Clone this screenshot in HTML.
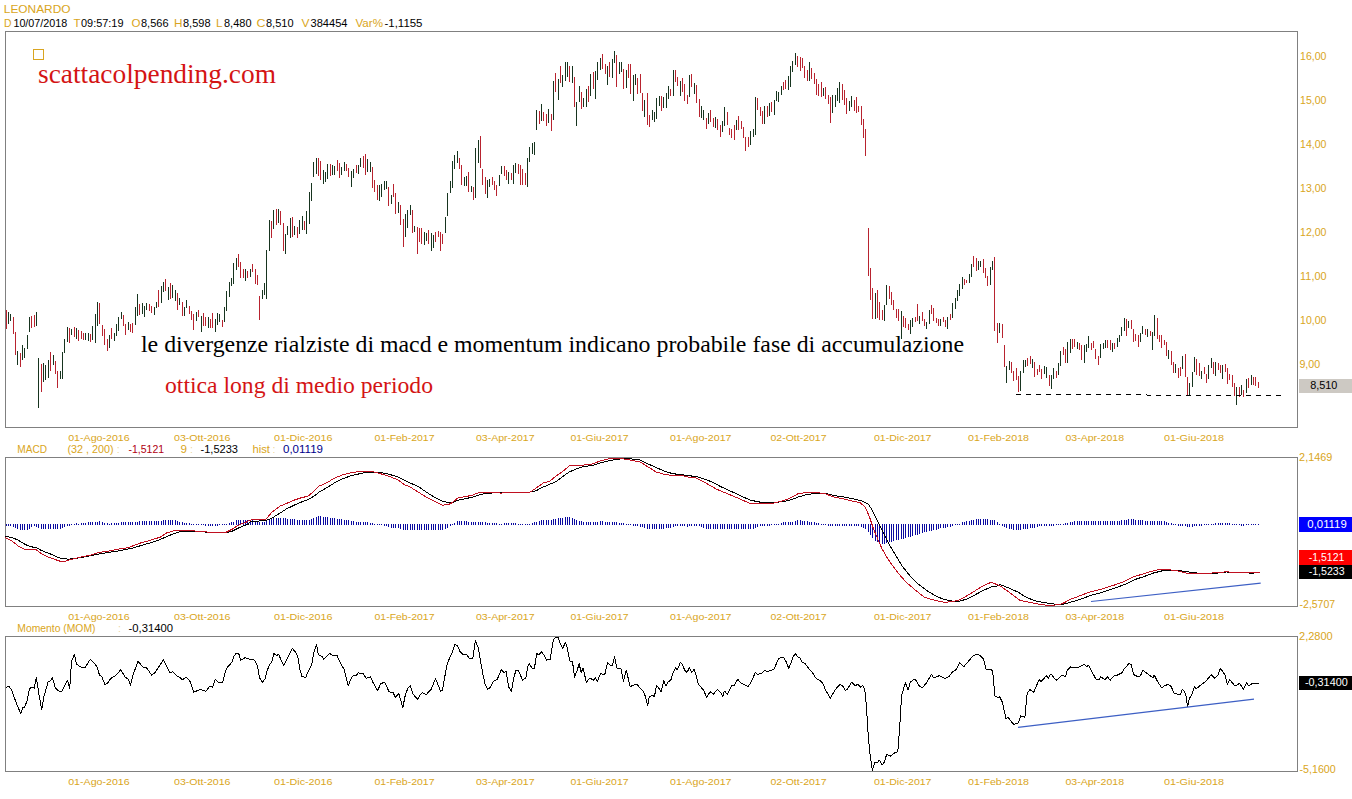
<!DOCTYPE html>
<html><head><meta charset="utf-8"><title>LEONARDO</title>
<style>html,body{margin:0;padding:0;background:#fff;width:1352px;height:799px;overflow:hidden;font-family:"Liberation Sans",sans-serif}</style>
</head><body>
<svg width="1352" height="799" viewBox="0 0 1352 799" style="position:absolute;left:0;top:0;font-family:'Liberation Sans',sans-serif">
<rect width="1352" height="799" fill="#fff"/>
<rect x="5.5" y="31.5" width="1292" height="396" fill="none" stroke="#808080" stroke-width="1" shape-rendering="crispEdges"/>
<rect x="5.5" y="457.5" width="1292" height="149" fill="none" stroke="#808080" stroke-width="1" shape-rendering="crispEdges"/>
<rect x="5.5" y="636.5" width="1292" height="135" fill="none" stroke="#808080" stroke-width="1" shape-rendering="crispEdges"/>
<path d="M8.5 312V324M10.5 314V321M17.5 351V365M22.5 345V360M24.5 348V358M27.5 335V349M29.5 317V332M36.5 312V326M38.5 358V408M43.5 363V382M45.5 365V380M48.5 360V378M53.5 355V365M60.5 371V379M62.5 352V379M64.5 339V353M67.5 327V342M71.5 329V335M76.5 328V339M85.5 333V340M88.5 333V341M92.5 326V340M95.5 314V343M97.5 302V326M109.5 335V348M114.5 333V341M116.5 324V336M118.5 317V331M121.5 312V319M128.5 322V330M135.5 307V325M137.5 294V316M142.5 303V314M144.5 306V317M146.5 303V310M154.5 307V315M156.5 302V308M161.5 286V303M163.5 282V292M168.5 287V300M172.5 285V298M175.5 290V301M179.5 298V305M184.5 307V316M186.5 300V308M196.5 312V321M201.5 316V332M208.5 317V328M215.5 319V332M217.5 313V325M219.5 314V322M224.5 307V322M226.5 291V311M229.5 282V297M231.5 278V286M233.5 263V284M236.5 258V270M245.5 269V281M250.5 269V277M262.5 290V299M264.5 283V295M266.5 250V299M269.5 220V251M273.5 210V229M278.5 209V223M285.5 234V254M287.5 226V235M290.5 218V238M294.5 226V235M299.5 220V234M302.5 216V230M306.5 211V234M309.5 192V224M311.5 183V201M313.5 162V177M316.5 158V174M323.5 170V184M325.5 172V182M327.5 164V179M332.5 165V175M334.5 166V175M341.5 167V175M344.5 162V171M351.5 171V187M353.5 169V178M358.5 165V174M360.5 158V167M367.5 159V172M370.5 162V172M379.5 185V201M381.5 184V197M384.5 181V190M386.5 181V189M391.5 195V204M398.5 202V213M405.5 214V237M407.5 210V228M410.5 205V215M414.5 226V232M424.5 232V245M426.5 233V241M431.5 233V251M433.5 235V248M445.5 217V233M447.5 193V216M450.5 181V193M452.5 161V188M454.5 155V169M457.5 151V163M464.5 177V186M466.5 176V186M471.5 186V192M475.5 148V198M478.5 140V163M487.5 180V198M489.5 179V187M499.5 175V186M501.5 166V174M508.5 172V184M513.5 165V184M515.5 163V173M527.5 158V187M529.5 147V162M532.5 143V154M534.5 142V155M536.5 110V130M541.5 104V121M548.5 109V123M553.5 81V120M558.5 79V100M562.5 75V87M565.5 62V81M567.5 62V77M572.5 66V83M576.5 102V126M579.5 86V102M583.5 98V107M586.5 89V107M590.5 74V96M595.5 71V99M597.5 62V80M600.5 58V70M607.5 66V85M612.5 59V78M614.5 51V63M619.5 62V74M621.5 62V72M626.5 70V88M633.5 75V101M635.5 74V85M644.5 100V117M652.5 110V120M654.5 112V122M656.5 98V119M659.5 96V106M663.5 97V108M666.5 93V108M668.5 86V99M673.5 70V96M680.5 81V96M689.5 75V97M694.5 83V94M701.5 106V118M703.5 110V120M708.5 113V124M715.5 117V128M722.5 121V132M724.5 107V126M736.5 120V130M750.5 131V145M753.5 129V137M755.5 97V135M764.5 106V124M769.5 103V116M774.5 100V115M776.5 91V101M778.5 92V102M781.5 86V95M788.5 76V90M790.5 66V87M792.5 61V72M795.5 53V65M809.5 62V81M823.5 88V96M832.5 95V113M835.5 95V107M837.5 88V101M839.5 82V103M849.5 101V111M851.5 96V107M875.5 293V319M884.5 305V321M886.5 285V305M901.5 311V339M910.5 320V334M912.5 318V327M919.5 316V324M926.5 322V329M929.5 310V324M940.5 319V326M947.5 317V329M952.5 303V318M955.5 298V309M957.5 290V301M959.5 284V296M962.5 277V289M969.5 274V283M971.5 264V277M978.5 261V270M980.5 261V267M990.5 267V285M992.5 261V270M999.5 323V333M1006.5 366V383M1009.5 361V370M1020.5 371V391M1023.5 360V373M1025.5 360V367M1032.5 359V368M1044.5 366V374M1046.5 367V378M1051.5 375V389M1053.5 368V379M1058.5 363V375M1060.5 351V366M1067.5 342V363M1070.5 339V353M1077.5 342V349M1084.5 345V363M1086.5 344V352M1088.5 336V348M1100.5 344V358M1103.5 343V349M1105.5 340V348M1112.5 343V352M1117.5 338V347M1119.5 335V342M1121.5 327V336M1124.5 318V331M1128.5 321V328M1140.5 333V342M1142.5 326V334M1147.5 329V337M1152.5 332V350M1154.5 315V336M1168.5 350V359M1175.5 364V373M1182.5 356V369M1189.5 383V396M1192.5 372V387M1194.5 357V372M1201.5 371V379M1208.5 365V379M1211.5 358V368M1215.5 362V376M1222.5 365V379M1236.5 387V405M1241.5 385V395M1246.5 379V393M1251.5 375V385" stroke="#17341F" stroke-width="1" fill="none" shape-rendering="crispEdges"/>
<path d="M6.5 310V329M13.5 317V334M15.5 332V355M20.5 353V367M31.5 316V328M34.5 315V327M41.5 364V392M50.5 352V371M55.5 361V374M57.5 371V388M69.5 328V343M74.5 327V337M78.5 330V341M81.5 331V339M83.5 333V340M90.5 334V342M99.5 303V324M102.5 325V336M104.5 329V345M107.5 339V351M111.5 328V339M123.5 315V326M125.5 324V335M130.5 324V332M132.5 323V333M139.5 304V315M149.5 304V311M151.5 306V313M158.5 290V307M165.5 279V291M170.5 283V299M177.5 293V310M182.5 302V316M189.5 306V314M191.5 311V320M193.5 314V330M198.5 310V317M203.5 313V326M205.5 317V326M210.5 319V328M212.5 313V328M222.5 320V327M238.5 254V267M240.5 262V278M243.5 269V278M247.5 271V278M252.5 264V272M255.5 269V284M257.5 275V285M259.5 296V320M271.5 221V238M276.5 209V225M280.5 211V225M283.5 223V251M292.5 217V237M297.5 227V238M304.5 221V230M318.5 158V176M320.5 161V180M330.5 164V176M337.5 160V171M339.5 163V178M346.5 164V171M348.5 168V177M356.5 165V173M363.5 156V168M365.5 154V175M372.5 167V188M374.5 180V192M377.5 185V200M388.5 187V206M393.5 184V197M395.5 193V214M400.5 205V225M403.5 219V247M412.5 210V233M417.5 227V254M419.5 228V242M421.5 228V244M428.5 230V244M435.5 232V242M438.5 231V237M440.5 232V251M442.5 234V244M459.5 158V169M461.5 165V185M468.5 172V192M473.5 187V200M480.5 136V168M482.5 169V185M485.5 177V194M492.5 177V185M494.5 181V190M496.5 185V196M504.5 166V176M506.5 170V180M511.5 173V180M518.5 164V174M520.5 165V185M522.5 169V185M525.5 173V185M539.5 111V124M543.5 112V121M546.5 114V126M551.5 114V131M555.5 73V92M560.5 66V83M569.5 66V82M574.5 77V107M581.5 92V109M588.5 86V102M593.5 72V89M602.5 54V69M605.5 64V74M609.5 62V77M616.5 55V87M623.5 69V89M628.5 64V78M630.5 64V94M637.5 78V94M640.5 74V93M642.5 93V111M647.5 93V125M649.5 115V127M661.5 96V111M670.5 89V96M675.5 70V82M677.5 77V86M682.5 78V92M684.5 84V101M687.5 95V104M691.5 74V87M696.5 85V103M699.5 99V117M706.5 118V129M710.5 110V122M713.5 118V127M717.5 119V130M720.5 125V137M727.5 112V125M729.5 128V135M731.5 129V138M734.5 125V140M738.5 116V130M741.5 121V129M743.5 127V138M745.5 137V151M748.5 137V147M757.5 98V110M760.5 107V116M762.5 111V124M767.5 106V117M771.5 102V112M783.5 82V90M785.5 80V89M797.5 56V67M800.5 57V71M802.5 58V68M804.5 66V78M807.5 70V81M811.5 68V79M814.5 73V84M816.5 79V95M818.5 84V96M821.5 82V97M825.5 87V99M828.5 95V104M830.5 97V123M842.5 84V100M844.5 90V105M846.5 98V114M854.5 100V111M856.5 97V113M858.5 106V112M861.5 106V125M863.5 119V138M865.5 129V156M868.5 228V276M870.5 268V300M872.5 288V319M877.5 290V318M879.5 302V320M882.5 310V320M889.5 286V299M891.5 292V305M893.5 300V310M896.5 309V318M898.5 309V321M903.5 316V327M905.5 318V328M908.5 324V330M915.5 317V322M917.5 304V321M922.5 312V321M924.5 319V326M931.5 305V314M933.5 308V321M936.5 318V323M938.5 319V326M943.5 317V322M945.5 320V327M950.5 314V320M964.5 279V285M966.5 280V283M973.5 256V267M976.5 258V271M983.5 259V273M985.5 268V278M987.5 276V286M994.5 257V331M997.5 323V343M1002.5 324V338M1004.5 345V367M1011.5 362V373M1013.5 371V381M1016.5 368V380M1018.5 376V392M1027.5 358V366M1030.5 356V364M1034.5 362V377M1037.5 369V375M1039.5 365V372M1041.5 369V379M1049.5 375V386M1056.5 371V378M1063.5 347V355M1065.5 349V363M1072.5 339V349M1074.5 339V347M1079.5 343V350M1081.5 345V360M1091.5 343V350M1093.5 341V348M1095.5 349V359M1098.5 356V365M1107.5 340V348M1110.5 340V350M1114.5 343V349M1126.5 319V336M1131.5 320V329M1133.5 329V342M1135.5 334V341M1138.5 335V347M1145.5 329V335M1150.5 331V336M1157.5 318V339M1159.5 335V342M1161.5 335V348M1164.5 340V345M1166.5 342V356M1171.5 351V365M1173.5 362V373M1178.5 368V378M1180.5 367V376M1185.5 354V377M1187.5 377V396M1196.5 359V375M1199.5 363V376M1204.5 367V374M1206.5 374V383M1213.5 362V374M1218.5 363V370M1220.5 365V373M1225.5 364V372M1227.5 368V384M1229.5 374V380M1232.5 375V387M1234.5 383V396M1239.5 387V397M1243.5 390V397M1248.5 378V388M1253.5 377V385M1255.5 377V386M1258.5 382V388" stroke="#B8232F" stroke-width="1" fill="none" shape-rendering="crispEdges"/>
<path d="M1016 394.5h1M1017 394.5h1M1018 394.5h1M1019 394.5h1M1020 394.5h1M1026 394.5h1M1027 394.5h1M1028 394.5h1M1029 394.5h1M1030 394.5h1M1036 394.5h1M1037 394.5h1M1038 394.5h1M1039 394.5h1M1040 394.5h1M1046 394.5h1M1047 394.5h1M1048 394.5h1M1049 394.5h1M1050 394.5h1M1056 394.5h1M1057 394.5h1M1058 394.5h1M1059 394.5h1M1060 394.5h1M1066 394.5h1M1067 394.5h1M1068 394.5h1M1069 394.5h1M1070 394.5h1M1076 394.5h1M1077 394.5h1M1078 394.5h1M1079 394.5h1M1080 394.5h1M1086 394.5h1M1087 394.5h1M1088 394.5h1M1089 394.5h1M1090 394.5h1M1096 394.5h1M1097 394.5h1M1098 394.5h1M1099 394.5h1M1100 394.5h1M1106 394.5h1M1107 394.5h1M1108 394.5h1M1109 394.5h1M1110 394.5h1M1116 394.5h1M1117 394.5h1M1118 394.5h1M1119 394.5h1M1120 394.5h1M1126 394.5h1M1127 394.5h1M1128 394.5h1M1129 394.5h1M1130 394.5h1M1136 394.5h1M1137 394.5h1M1138 394.5h1M1139 394.5h1M1140 394.5h1M1146 394.5h1M1147 395.5h1M1148 395.5h1M1149 395.5h1M1150 395.5h1M1156 395.5h1M1157 395.5h1M1158 395.5h1M1159 395.5h1M1160 395.5h1M1166 395.5h1M1167 395.5h1M1168 395.5h1M1169 395.5h1M1170 395.5h1M1176 395.5h1M1177 395.5h1M1178 395.5h1M1179 395.5h1M1180 395.5h1M1186 395.5h1M1187 395.5h1M1188 395.5h1M1189 395.5h1M1190 395.5h1M1196 395.5h1M1197 395.5h1M1198 395.5h1M1199 395.5h1M1200 395.5h1M1206 395.5h1M1207 395.5h1M1208 395.5h1M1209 395.5h1M1210 395.5h1M1216 395.5h1M1217 395.5h1M1218 395.5h1M1219 395.5h1M1220 395.5h1M1226 395.5h1M1227 395.5h1M1228 395.5h1M1229 395.5h1M1230 395.5h1M1236 395.5h1M1237 395.5h1M1238 395.5h1M1239 395.5h1M1240 395.5h1M1246 395.5h1M1247 395.5h1M1248 395.5h1M1249 395.5h1M1250 395.5h1M1256 395.5h1M1257 395.5h1M1258 395.5h1M1259 395.5h1M1260 395.5h1M1266 395.5h1M1267 395.5h1M1268 395.5h1M1269 395.5h1M1270 395.5h1M1276 395.5h1M1277 395.5h1M1278 395.5h1M1279 395.5h1M1280 395.5h1" stroke="#000" stroke-width="1" fill="none" shape-rendering="crispEdges"/>
<rect x="33.5" y="49.5" width="10" height="10" fill="none" stroke="#D9A521" stroke-width="1" shape-rendering="crispEdges"/>
<path d="M6.5 524V526M8.5 524V526M10.5 524V526M13.5 524V527M15.5 524V528M17.5 524V529M20.5 524V530M22.5 524V530M24.5 524V530M27.5 524V530M29.5 524V529M31.5 524V527M34.5 524V526M36.5 524V527M38.5 524V528M41.5 524V529M43.5 524V529M45.5 524V529M48.5 524V529M50.5 524V529M53.5 524V529M55.5 524V529M57.5 524V529M60.5 524V529M62.5 524V528M64.5 524V527M67.5 524V526M69.5 524V526M71.5 524V525M74.5 524V525M76.5 523V525M78.5 524V525M81.5 523V525M83.5 523V525M85.5 523V525M88.5 522V525M90.5 522V525M92.5 522V525M95.5 522V525M97.5 522V525M99.5 521V525M102.5 522V525M104.5 523V525M107.5 523V525M109.5 524V525M111.5 523V525M114.5 523V525M116.5 523V525M118.5 523V525M121.5 522V525M123.5 522V525M125.5 522V525M128.5 522V525M130.5 522V525M132.5 522V525M135.5 522V525M137.5 522V525M139.5 521V525M142.5 521V525M144.5 521V525M146.5 521V525M149.5 521V525M151.5 521V525M154.5 521V525M156.5 521V525M158.5 521V525M161.5 521V525M163.5 520V525M165.5 520V525M168.5 520V525M170.5 520V525M172.5 520V525M175.5 520V525M177.5 521V525M179.5 522V525M182.5 522V525M184.5 523V525M186.5 523V525M189.5 523V525M191.5 524V525M193.5 524V525M196.5 524V525M198.5 524V525M201.5 524V525M203.5 524V525M205.5 524V526M208.5 524V526M210.5 524V526M212.5 524V526M215.5 524V526M217.5 524V526M219.5 524V525M222.5 524V525M224.5 524V525M226.5 524V525M229.5 523V525M231.5 522V525M233.5 522V525M236.5 520V525M238.5 520V525M240.5 520V525M243.5 520V525M245.5 520V525M247.5 520V525M250.5 520V525M252.5 520V525M255.5 522V525M257.5 522V525M259.5 522V525M262.5 522V525M264.5 522V525M266.5 521V525M269.5 520V525M271.5 519V525M273.5 518V525M276.5 518V525M278.5 518V525M280.5 518V525M283.5 518V525M285.5 518V525M287.5 519V525M290.5 519V525M292.5 519V525M294.5 519V525M297.5 520V525M299.5 520V525M302.5 520V525M304.5 520V525M306.5 520V525M309.5 520V525M311.5 519V525M313.5 518V525M316.5 517V525M318.5 516V525M320.5 516V525M323.5 517V525M325.5 517V525M327.5 517V525M330.5 518V525M332.5 518V525M334.5 518V525M337.5 519V525M339.5 519V525M341.5 519V525M344.5 520V525M346.5 520V525M348.5 520V525M351.5 521V525M353.5 521V525M356.5 522V525M358.5 522V525M360.5 522V525M363.5 522V525M365.5 522V525M367.5 522V525M370.5 523V525M372.5 523V525M374.5 524V525M377.5 524V525M379.5 524V525M381.5 524V525M384.5 524V526M386.5 524V526M388.5 524V527M391.5 524V528M393.5 524V528M395.5 524V528M398.5 524V528M400.5 524V529M403.5 524V530M405.5 524V530M407.5 524V530M410.5 524V530M412.5 524V530M414.5 524V530M417.5 524V530M419.5 524V530M421.5 524V530M424.5 524V530M426.5 524V530M428.5 524V530M431.5 524V530M433.5 524V530M435.5 524V530M438.5 524V530M440.5 524V530M442.5 524V530M445.5 524V529M447.5 524V528M450.5 524V526M452.5 524V525M454.5 523V525M457.5 521V525M459.5 521V525M461.5 521V525M464.5 521V525M466.5 521V525M468.5 522V525M471.5 522V525M473.5 522V525M475.5 522V525M478.5 522V525M480.5 522V525M482.5 522V525M485.5 522V525M487.5 523V525M489.5 523V525M492.5 523V525M494.5 523V525M496.5 523V525M499.5 524V525M501.5 524V525M504.5 523V525M506.5 523V525M508.5 523V525M511.5 523V525M513.5 523V525M515.5 523V525M518.5 524V525M520.5 524V525M522.5 524V525M525.5 524V525M527.5 524V525M529.5 524V525M532.5 523V525M534.5 522V525M536.5 522V525M539.5 521V525M541.5 520V525M543.5 520V525M546.5 520V525M548.5 520V525M551.5 520V525M553.5 519V525M555.5 519V525M558.5 518V525M560.5 518V525M562.5 518V525M565.5 517V525M567.5 517V525M569.5 517V525M572.5 518V525M574.5 519V525M576.5 520V525M579.5 521V525M581.5 521V525M583.5 522V525M586.5 522V525M588.5 522V525M590.5 522V525M593.5 522V525M595.5 522V525M597.5 522V525M600.5 521V525M602.5 521V525M605.5 522V525M607.5 522V525M609.5 522V525M612.5 522V525M614.5 522V525M616.5 522V525M619.5 523V525M621.5 523V525M623.5 523V525M626.5 524V525M628.5 524V525M630.5 524V525M633.5 524V526M635.5 524V526M637.5 524V526M640.5 524V527M642.5 524V527M644.5 524V528M647.5 524V529M649.5 524V529M652.5 524V529M654.5 524V529M656.5 524V529M659.5 524V529M661.5 524V529M663.5 524V529M666.5 524V528M668.5 524V528M670.5 524V528M673.5 524V527M675.5 524V526M677.5 524V526M680.5 524V526M682.5 524V526M684.5 524V526M687.5 524V527M689.5 524V526M691.5 524V526M694.5 524V526M696.5 524V526M699.5 524V526M701.5 524V527M703.5 524V528M706.5 524V529M708.5 524V529M710.5 524V529M713.5 524V529M715.5 524V529M717.5 524V529M720.5 524V529M722.5 524V529M724.5 524V529M727.5 524V529M729.5 524V529M731.5 524V529M734.5 524V529M736.5 524V529M738.5 524V529M741.5 524V529M743.5 524V529M745.5 524V529M748.5 524V529M750.5 524V529M753.5 524V529M755.5 524V528M757.5 524V527M760.5 524V526M762.5 524V526M764.5 524V526M767.5 524V526M769.5 524V526M771.5 524V525M774.5 524V525M776.5 524V525M778.5 524V525M781.5 523V525M783.5 522V525M785.5 522V525M788.5 522V525M790.5 522V525M792.5 522V525M795.5 521V525M797.5 520V525M800.5 520V525M802.5 521V525M804.5 521V525M807.5 521V525M809.5 522V525M811.5 522V525M814.5 522V525M816.5 523V525M818.5 523V525M821.5 524V525M823.5 524V525M825.5 524V525M828.5 524V526M830.5 524V526M832.5 524V526M835.5 524V526M837.5 524V526M839.5 524V526M842.5 524V526M844.5 524V526M846.5 524V526M849.5 524V526M851.5 524V526M854.5 524V526M856.5 524V526M858.5 524V526M861.5 524V527M863.5 524V528M865.5 524V529M868.5 524V532M870.5 524V535M872.5 524V538M875.5 524V541M877.5 524V542M879.5 524V543M882.5 524V544M884.5 524V544M886.5 524V543M889.5 524V542M891.5 524V542M893.5 524V541M896.5 524V540M898.5 524V540M901.5 524V539M903.5 524V539M905.5 524V538M908.5 524V537M910.5 524V537M912.5 524V536M915.5 524V535M917.5 524V535M919.5 524V534M922.5 524V533M924.5 524V532M926.5 524V532M929.5 524V531M931.5 524V531M933.5 524V530M936.5 524V530M938.5 524V529M940.5 524V528M943.5 524V528M945.5 524V528M947.5 524V527M950.5 524V527M952.5 524V526M955.5 524V525M957.5 524V525M959.5 524V525M962.5 522V525M964.5 522V525M966.5 521V525M969.5 521V525M971.5 520V525M973.5 520V525M976.5 519V525M978.5 519V525M980.5 519V525M983.5 519V525M985.5 519V525M987.5 519V525M990.5 520V525M992.5 520V525M994.5 520V525M997.5 522V525M999.5 524V525M1002.5 524V526M1004.5 524V527M1006.5 524V528M1009.5 524V529M1011.5 524V529M1013.5 524V530M1016.5 524V530M1018.5 524V530M1020.5 524V530M1023.5 524V529M1025.5 524V529M1027.5 524V529M1030.5 524V528M1032.5 524V528M1034.5 524V528M1037.5 524V527M1039.5 524V526M1041.5 524V526M1044.5 524V526M1046.5 524V526M1049.5 524V526M1051.5 524V526M1053.5 524V526M1056.5 524V525M1058.5 524V525M1060.5 524V525M1063.5 524V525M1065.5 523V525M1067.5 523V525M1070.5 522V525M1072.5 522V525M1074.5 521V525M1077.5 521V525M1079.5 521V525M1081.5 521V525M1084.5 521V525M1086.5 521V525M1088.5 521V525M1091.5 521V525M1093.5 521V525M1095.5 521V525M1098.5 521V525M1100.5 521V525M1103.5 521V525M1105.5 521V525M1107.5 521V525M1110.5 521V525M1112.5 521V525M1114.5 521V525M1117.5 521V525M1119.5 521V525M1121.5 520V525M1124.5 520V525M1126.5 520V525M1128.5 519V525M1131.5 519V525M1133.5 519V525M1135.5 520V525M1138.5 520V525M1140.5 520V525M1142.5 520V525M1145.5 521V525M1147.5 521V525M1150.5 521V525M1152.5 521V525M1154.5 521V525M1157.5 521V525M1159.5 521V525M1161.5 521V525M1164.5 521V525M1166.5 522V525M1168.5 523V525M1171.5 523V525M1173.5 524V525M1175.5 524V525M1178.5 524V526M1180.5 524V526M1182.5 524V526M1185.5 524V526M1187.5 524V527M1189.5 524V527M1192.5 524V527M1194.5 524V526M1196.5 524V526M1199.5 524V526M1201.5 524V526M1204.5 524V525M1206.5 524V525M1208.5 524V525M1211.5 524V525M1213.5 524V525M1215.5 523V525M1218.5 523V525M1220.5 523V525M1222.5 523V525M1225.5 523V525M1227.5 523V525M1229.5 523V525M1232.5 524V525M1234.5 524V525M1236.5 524V525M1239.5 524V525M1241.5 524V526M1243.5 524V526M1246.5 524V525M1248.5 524V525M1251.5 524V525M1253.5 524V525M1255.5 524V525M1258.5 524V525" stroke="#0A0AA0" stroke-width="1" fill="none" shape-rendering="crispEdges"/>
<polyline points="5.4,536.5 12.0,537.5 18.0,540.1 24.0,543.8 30.0,546.6 36.1,547.6 42.1,550.8 50.1,553.8 60.1,558.2 68.1,559.2 80.1,557.8 90.1,555.8 100.2,553.8 110.2,552.2 120.2,550.6 132.2,548.2 144.2,544.6 156.2,541.1 170.3,535.1 178.3,532.1 190.3,531.1 202.3,531.7 212.3,532.7 226.4,532.5 232.4,531.1 240.4,527.1 248.4,524.1 250.0,521.7 258.0,521.1 266.0,520.5 272.0,518.1 280.0,513.1 286.1,509.1 293.1,505.7 300.1,502.5 308.1,499.7 314.1,496.1 319.1,492.1 326.1,488.1 334.1,483.1 342.1,479.0 350.2,476.0 360.2,473.6 368.2,472.0 374.2,472.0 380.2,472.6 388.2,474.0 398.2,477.0 404.2,480.0 410.3,483.1 418.3,486.5 426.3,492.1 434.3,497.1 442.3,501.1 448.3,502.7 452.3,502.5 458.3,500.1 466.3,498.5 472.4,497.1 478.4,495.1 486.4,493.1 498.4,492.9 500.0,492.7 514.0,492.3 530.0,492.1 536.1,490.7 543.1,487.1 550.1,484.1 556.1,481.7 562.1,477.0 569.1,472.0 576.1,469.0 584.1,466.4 592.1,465.6 600.2,463.0 608.2,461.0 616.2,459.4 624.2,458.6 632.2,459.0 640.2,460.0 648.2,464.0 656.2,467.6 664.3,471.0 672.3,473.6 680.3,474.6 688.3,475.6 696.3,476.6 704.3,479.0 712.3,482.1 720.4,486.5 728.4,490.1 740.4,495.7 749.4,499.7 750.0,500.1 762.0,502.5 774.0,502.5 782.1,501.7 790.1,500.1 798.1,497.1 806.1,494.7 818.1,493.1 826.1,493.5 834.1,495.5 844.2,497.1 854.2,499.1 862.2,501.1 868.2,504.1 872.2,510.1 878.2,522.1 884.2,534.1 890.2,546.2 896.2,556.2 902.2,566.2 910.3,576.2 918.3,584.2 926.3,590.2 934.3,595.2 942.3,598.8 952.3,601.2 959.3,601.2 966.3,599.2 974.4,595.2 982.4,590.8 991.4,586.8 998.4,585.8 1000.0,584.5 1008.9,588.0 1017.8,592.0 1026.6,597.5 1035.5,600.9 1044.4,602.7 1055.5,604.2 1064.3,604.0 1073.2,601.5 1082.1,598.7 1091.0,595.3 1099.8,593.1 1108.7,590.2 1117.6,587.1 1126.5,583.8 1135.3,579.4 1144.2,576.5 1153.1,573.1 1162.0,570.9 1170.8,570.0 1179.7,570.7 1188.6,572.0 1197.5,573.1 1206.3,573.6 1217.4,573.1 1226.3,572.0 1235.2,572.3 1244.1,572.9 1252.9,573.1 1259.6,572.5" stroke="#000" stroke-width="1" fill="none" stroke-linejoin="round" shape-rendering="crispEdges"/>
<polyline points="5.4,537.7 12.0,541.1 18.0,545.8 24.0,549.2 36.1,549.8 42.1,554.2 50.1,557.8 60.1,561.2 65.1,561.2 70.1,559.6 80.1,557.2 90.1,555.2 98.2,552.6 108.2,551.2 118.2,549.2 128.2,547.6 140.2,543.1 152.2,539.7 160.3,537.1 166.3,533.1 174.3,530.5 190.3,530.7 202.3,531.5 212.3,532.7 226.4,532.1 232.4,529.1 238.4,525.1 246.4,522.1 250.0,520.1 258.0,519.3 266.0,519.1 272.0,512.1 280.0,506.1 286.1,503.7 293.1,500.5 300.1,498.1 308.1,496.1 314.1,491.1 319.1,486.1 326.1,483.1 334.1,478.4 342.1,475.0 350.2,473.0 360.2,471.4 368.2,471.2 374.2,472.0 380.2,473.6 388.2,476.0 398.2,480.0 404.2,484.5 410.3,487.1 418.3,492.1 426.3,497.1 434.3,501.1 442.3,505.1 448.3,504.7 452.3,502.5 458.3,497.7 466.3,496.5 472.4,495.1 478.4,492.7 486.4,492.5 498.4,492.7 500.0,493.1 514.0,492.3 530.0,492.1 536.1,488.1 543.1,483.1 550.1,481.0 556.1,476.0 562.1,472.0 569.1,466.0 576.1,465.0 584.1,465.0 592.1,464.0 600.2,461.0 608.2,459.0 616.2,458.4 624.2,459.0 632.2,460.4 640.2,462.0 648.2,467.0 656.2,472.0 664.3,474.4 672.3,475.4 680.3,475.0 688.3,477.0 696.3,478.0 704.3,482.1 716.3,489.1 728.4,494.1 740.4,499.1 749.4,503.3 750.0,503.5 762.0,503.5 774.0,503.1 782.1,501.1 790.1,498.1 798.1,493.7 806.1,492.5 818.1,492.7 826.1,494.1 834.1,497.1 844.2,499.1 854.2,501.5 860.2,502.7 865.2,507.1 869.2,516.1 873.2,528.1 878.2,540.1 882.2,549.2 886.2,556.2 892.2,565.2 898.2,573.2 906.2,582.2 914.3,589.2 924.3,597.2 934.3,600.2 944.3,602.2 952.3,601.8 958.3,600.2 966.3,596.2 974.4,591.2 982.4,586.2 991.4,582.2 998.4,585.2 1000.0,585.8 1008.9,592.0 1020.0,600.4 1031.1,602.7 1042.2,604.9 1053.3,605.3 1062.1,603.8 1071.0,599.1 1079.9,595.8 1088.8,592.4 1097.6,590.2 1106.5,587.6 1115.4,584.7 1124.3,581.4 1133.1,576.9 1142.0,574.3 1150.9,571.4 1159.8,569.4 1168.6,569.6 1177.5,570.9 1186.4,573.1 1195.3,573.4 1206.3,573.4 1217.4,572.7 1226.3,571.8 1235.2,572.5 1244.1,572.9 1252.9,572.9 1259.6,572.3" stroke="#C01020" stroke-width="1" fill="none" stroke-linejoin="round" shape-rendering="crispEdges"/>
<path d="M1091 601.5L1260.7 583.1" stroke="#3D5FC4" stroke-width="1.2" fill="none"/>
<polyline points="6.2,687.3 9.0,686.5 11.4,689.4 16.3,703.2 20.7,713.5 22.8,707.6 24.4,707.3 26.9,701.6 29.3,689.4 31.7,687.0 34.2,688.3 36.3,677.2 39.1,695.1 41.7,709.7 43.9,696.7 48.0,682.1 50.4,680.9 52.4,677.5 55.3,687.8 58.6,691.0 61.8,691.4 65.1,684.5 67.5,680.1 69.7,688.6 71.6,660.9 74.5,654.4 76.5,664.2 81.4,667.4 85.4,667.1 90.3,659.3 94.4,663.4 97.3,667.4 99.6,675.6 101.7,676.4 105.0,684.5 107.4,683.4 110.7,678.5 115.5,675.6 120.7,669.9 125.3,677.2 128.6,679.3 130.5,685.3 133.4,673.9 138.0,661.4 143.2,667.1 146.5,667.8 151.7,675.1 154.6,673.1 163.5,659.6 166.8,666.6 170.1,673.1 172.8,671.5 177.4,676.7 179.8,677.2 182.3,680.0 186.0,677.2 190.4,681.7 193.7,692.3 200.2,689.4 205.9,691.4 210.0,685.8 212.4,687.4 215.2,679.3 218.1,682.1 222.7,682.4 225.5,670.7 227.9,666.6 232.0,662.2 233.6,656.9 236.0,653.6 239.0,654.1 240.6,660.4 245.0,657.7 250.7,659.6 254.3,660.1 257.2,665.0 259.6,678.0 262.4,682.4 265.0,678.8 267.0,670.7 269.9,664.2 271.8,661.7 273.8,653.6 276.7,655.2 278.7,654.7 283.6,665.5 287.3,658.5 292.2,648.4 295.4,652.0 297.9,656.9 299.8,669.1 301.9,676.4 305.7,677.5 308.5,670.7 311.7,665.0 314.1,651.2 316.6,644.3 318.2,654.4 322.3,656.9 323.9,659.3 329.6,653.3 332.9,656.0 336.9,655.2 340.2,662.5 344.3,669.9 348.3,685.7 351.6,677.2 353.5,675.6 356.5,675.2 358.4,672.6 361.3,673.9 363.0,673.1 366.2,678.3 370.3,676.9 373.5,683.4 377.6,690.5 380.9,683.4 384.9,682.4 389.0,691.8 393.1,692.7 395.5,697.5 398.8,693.5 402.8,707.6 405.3,695.1 407.7,688.6 410.5,685.7 412.6,693.5 417.5,699.5 420.0,695.1 422.0,692.7 426.2,694.6 431.4,688.9 435.5,678.5 437.9,684.5 440.7,691.4 442.5,690.2 444.4,678.8 447.3,663.4 451.7,653.6 454.7,644.6 457.4,645.5 459.9,651.2 463.1,654.4 466.4,654.4 469.6,658.5 472.9,658.0 475.3,640.6 478.3,647.9 480.2,659.3 482.7,673.1 485.1,684.5 487.5,689.1 490.0,687.8 493.2,681.7 497.3,679.1 501.4,669.5 503.8,672.6 506.2,671.5 508.7,687.0 511.5,691.5 513.6,678.0 516.0,670.4 518.5,670.7 522.5,680.1 525.8,678.0 527.7,666.6 529.4,663.8 532.0,668.2 534.4,668.2 536.8,653.6 538.8,654.7 541.7,651.6 544.5,656.0 546.6,660.1 550.2,659.3 553.4,639.8 555.4,637.8 558.3,637.3 560.3,643.8 562.7,648.2 565.6,642.2 567.3,647.9 569.7,660.9 572.5,661.7 574.6,677.2 577.0,670.7 579.2,663.8 581.1,672.6 583.1,668.2 586.3,682.1 590.1,678.0 593.3,680.4 595.4,677.7 597.4,681.3 600.6,673.6 604.7,674.8 607.5,662.5 609.6,665.0 612.4,665.8 614.5,656.5 616.9,668.2 621.0,669.1 623.4,681.3 626.3,670.4 630.3,687.0 632.0,685.7 636.8,684.2 639.8,687.8 643.0,691.0 645.5,696.7 647.6,705.7 649.2,697.2 652.0,695.1 654.4,696.7 656.5,685.7 659.0,688.3 661.2,691.8 663.7,680.9 666.1,686.1 668.2,681.7 670.7,680.4 673.1,673.1 675.6,667.9 677.2,669.9 680.4,662.5 682.4,664.2 684.5,669.9 687.0,672.3 689.4,667.8 691.8,672.6 694.3,669.1 695.9,674.8 698.3,684.5 701.6,687.8 704.0,691.0 706.5,697.2 710.1,691.8 713.5,694.0 717.4,689.4 721.1,693.1 722.8,696.4 724.4,691.0 727.3,694.3 731.7,685.8 734.1,685.3 737.7,679.3 741.5,683.7 743.9,684.2 748.0,686.5 750.4,683.7 755.3,672.6 757.7,674.3 761.8,673.1 764.7,670.4 767.5,671.5 770.3,670.7 774.0,669.1 776.5,663.4 778.9,658.5 781.3,657.2 783.8,657.7 786.2,661.7 788.7,668.2 791.1,662.5 793.5,656.0 795.5,653.6 797.6,656.9 799.7,657.7 802.5,662.5 805.4,663.8 809.0,669.1 812.3,672.3 816.3,678.8 819.6,680.1 823.7,684.5 825.3,690.2 827.7,693.5 830.5,698.3 833.4,692.7 836.7,687.8 840.0,684.4 842.8,686.3 845.3,690.4 847.5,689.1 851.6,682.2 855.4,685.8 857.8,684.1 860.6,687.3 862.9,685.4 864.8,690.1 866.3,705.1 868.2,735.1 870.0,753.9 872.3,770.4 874.7,762.3 877.5,762.7 879.4,760.1 882.2,764.8 884.7,761.4 886.6,754.3 890.3,756.3 894.4,753.0 897.8,751.5 899.7,727.6 901.0,705.1 901.9,694.8 905.3,682.6 908.0,690.1 910.4,682.0 915.1,678.8 917.3,682.6 919.8,686.9 922.6,687.3 926.4,683.1 931.4,674.5 933.9,677.9 939.5,675.6 945.1,678.4 948.9,676.6 952.6,671.7 956.4,669.4 959.6,662.9 963.9,666.6 969.5,660.0 973.7,655.3 978.0,654.4 980.8,656.3 983.6,659.1 986.0,669.0 989.2,669.4 991.7,669.0 993.0,675.1 994.9,695.7 997.7,697.6 999.6,696.6 1002.4,702.3 1006.1,719.2 1008.0,717.3 1013.6,724.4 1018.3,722.9 1020.6,716.0 1024.9,717.3 1027.2,692.9 1030.0,689.7 1033.7,692.3 1039.0,679.7 1041.2,681.6 1046.5,675.6 1048.4,678.8 1050.0,675.0 1051.9,674.7 1053.8,677.9 1056.9,680.3 1061.3,676.0 1063.1,675.0 1065.4,676.9 1067.3,670.4 1070.6,667.0 1078.2,667.5 1084.2,664.3 1086.6,666.6 1088.5,665.3 1092.2,672.2 1096.0,679.2 1099.2,679.2 1100.7,676.9 1105.4,679.7 1107.2,676.5 1110.1,680.3 1114.8,675.0 1117.6,675.0 1122.3,672.6 1124.1,668.5 1126.0,667.2 1128.8,663.4 1131.3,664.7 1133.5,674.5 1138.2,676.9 1140.5,675.6 1142.9,670.4 1146.7,673.2 1150.4,676.0 1153.2,677.9 1154.2,675.0 1157.9,682.2 1161.7,687.8 1164.5,685.7 1168.2,684.4 1171.1,686.3 1173.9,692.9 1177.6,694.4 1180.4,694.2 1182.3,689.7 1184.2,691.0 1186.1,696.6 1187.6,707.0 1189.3,698.5 1191.7,694.8 1194.5,686.3 1196.0,689.1 1200.2,685.4 1205.8,681.2 1211.4,674.7 1214.8,678.4 1218.0,675.0 1220.4,668.5 1222.7,671.3 1224.9,675.0 1227.4,684.4 1229.8,679.7 1234.9,685.9 1239.6,683.5 1243.3,689.1 1246.7,682.9 1248.6,685.7 1252.3,683.5 1258.7,683.5" stroke="#000" stroke-width="1" fill="none" stroke-linejoin="round" shape-rendering="crispEdges"/>
<path d="M1018 727.4L1254 699.1" stroke="#3D5FC4" stroke-width="1.2" fill="none"/>
<rect x="1299" y="379" width="53" height="14" fill="#CDC9C3"/>
<text x="1310.2" y="388.7" fill="#000" font-size="10.5" text-anchor="start" font-family="Liberation Sans" textLength="27.2" lengthAdjust="spacingAndGlyphs">8,510</text>
<rect x="1299" y="517" width="53" height="15" fill="#0000FF"/>
<text x="1307.3" y="527.8" fill="#fff" font-size="10.5" text-anchor="start" font-family="Liberation Sans" textLength="39.5" lengthAdjust="spacingAndGlyphs">0,01119</text>
<rect x="1299" y="550" width="53" height="15" fill="#FF0000"/>
<text x="1308.7" y="561.1" fill="#fff" font-size="10.5" text-anchor="start" font-family="Liberation Sans" textLength="35.7" lengthAdjust="spacingAndGlyphs">-1,5121</text>
<rect x="1299" y="565" width="53" height="14" fill="#000"/>
<text x="1308.7" y="574.7" fill="#fff" font-size="10.5" text-anchor="start" font-family="Liberation Sans" textLength="36.0" lengthAdjust="spacingAndGlyphs">-1,5233</text>
<rect x="1299" y="676" width="53" height="14" fill="#000"/>
<text x="1304.9" y="686.3" fill="#fff" font-size="10.5" text-anchor="start" font-family="Liberation Sans" textLength="42.9" lengthAdjust="spacingAndGlyphs">-0,31400</text>
<text x="1300.1" y="60" fill="#D9A521" font-size="10.5" text-anchor="start" font-family="Liberation Sans" textLength="26.4" lengthAdjust="spacingAndGlyphs">16,00</text>
<text x="1300.1" y="104" fill="#D9A521" font-size="10.5" text-anchor="start" font-family="Liberation Sans" textLength="26.4" lengthAdjust="spacingAndGlyphs">15,00</text>
<text x="1300.1" y="148" fill="#D9A521" font-size="10.5" text-anchor="start" font-family="Liberation Sans" textLength="26.4" lengthAdjust="spacingAndGlyphs">14,00</text>
<text x="1300.1" y="192" fill="#D9A521" font-size="10.5" text-anchor="start" font-family="Liberation Sans" textLength="26.4" lengthAdjust="spacingAndGlyphs">13,00</text>
<text x="1300.1" y="236" fill="#D9A521" font-size="10.5" text-anchor="start" font-family="Liberation Sans" textLength="26.4" lengthAdjust="spacingAndGlyphs">12,00</text>
<text x="1300.1" y="280" fill="#D9A521" font-size="10.5" text-anchor="start" font-family="Liberation Sans" textLength="26.4" lengthAdjust="spacingAndGlyphs">11,00</text>
<text x="1300.1" y="324" fill="#D9A521" font-size="10.5" text-anchor="start" font-family="Liberation Sans" textLength="26.4" lengthAdjust="spacingAndGlyphs">10,00</text>
<text x="1299.4" y="368" fill="#D9A521" font-size="10.5" text-anchor="start" font-family="Liberation Sans" textLength="20.8" lengthAdjust="spacingAndGlyphs">9,00</text>
<text x="1299.1" y="461.3" fill="#D9A521" font-size="10.5" text-anchor="start" font-family="Liberation Sans" textLength="33.2" lengthAdjust="spacingAndGlyphs">2,1469</text>
<text x="1299.6" y="607.6" fill="#D9A521" font-size="10.5" text-anchor="start" font-family="Liberation Sans" textLength="35.5" lengthAdjust="spacingAndGlyphs">-2,5707</text>
<text x="1299.0" y="640.3" fill="#D9A521" font-size="10.5" text-anchor="start" font-family="Liberation Sans" textLength="33.7" lengthAdjust="spacingAndGlyphs">2,2800</text>
<text x="1299.5" y="773" fill="#D9A521" font-size="10.5" text-anchor="start" font-family="Liberation Sans" textLength="36.2" lengthAdjust="spacingAndGlyphs">-5,1600</text>
<text x="68.2" y="441" fill="#D9A521" font-size="9.3" text-anchor="start" font-family="Liberation Sans" textLength="61.5" lengthAdjust="spacingAndGlyphs">01-Ago-2016</text>
<text x="174.0" y="441" fill="#D9A521" font-size="9.3" text-anchor="start" font-family="Liberation Sans" textLength="56.5" lengthAdjust="spacingAndGlyphs">03-Ott-2016</text>
<text x="274.0" y="441" fill="#D9A521" font-size="9.3" text-anchor="start" font-family="Liberation Sans" textLength="58.5" lengthAdjust="spacingAndGlyphs">01-Dic-2016</text>
<text x="374.5" y="441" fill="#D9A521" font-size="9.3" text-anchor="start" font-family="Liberation Sans" textLength="60" lengthAdjust="spacingAndGlyphs">01-Feb-2017</text>
<text x="476.0" y="441" fill="#D9A521" font-size="9.3" text-anchor="start" font-family="Liberation Sans" textLength="58.5" lengthAdjust="spacingAndGlyphs">03-Apr-2017</text>
<text x="570.5" y="441" fill="#D9A521" font-size="9.3" text-anchor="start" font-family="Liberation Sans" textLength="58" lengthAdjust="spacingAndGlyphs">01-Giu-2017</text>
<text x="670.0" y="441" fill="#D9A521" font-size="9.3" text-anchor="start" font-family="Liberation Sans" textLength="61.5" lengthAdjust="spacingAndGlyphs">01-Ago-2017</text>
<text x="770.5" y="441" fill="#D9A521" font-size="9.3" text-anchor="start" font-family="Liberation Sans" textLength="56" lengthAdjust="spacingAndGlyphs">02-Ott-2017</text>
<text x="874.0" y="441" fill="#D9A521" font-size="9.3" text-anchor="start" font-family="Liberation Sans" textLength="57.5" lengthAdjust="spacingAndGlyphs">01-Dic-2017</text>
<text x="968.0" y="441" fill="#D9A521" font-size="9.3" text-anchor="start" font-family="Liberation Sans" textLength="61.0" lengthAdjust="spacingAndGlyphs">01-Feb-2018</text>
<text x="1065.5" y="441" fill="#D9A521" font-size="9.3" text-anchor="start" font-family="Liberation Sans" textLength="58.5" lengthAdjust="spacingAndGlyphs">03-Apr-2018</text>
<text x="1164.0" y="441" fill="#D9A521" font-size="9.3" text-anchor="start" font-family="Liberation Sans" textLength="60.0" lengthAdjust="spacingAndGlyphs">01-Giu-2018</text>
<text x="68.2" y="619.6" fill="#D9A521" font-size="9.3" text-anchor="start" font-family="Liberation Sans" textLength="61.5" lengthAdjust="spacingAndGlyphs">01-Ago-2016</text>
<text x="174.0" y="619.6" fill="#D9A521" font-size="9.3" text-anchor="start" font-family="Liberation Sans" textLength="56.5" lengthAdjust="spacingAndGlyphs">03-Ott-2016</text>
<text x="274.0" y="619.6" fill="#D9A521" font-size="9.3" text-anchor="start" font-family="Liberation Sans" textLength="58.5" lengthAdjust="spacingAndGlyphs">01-Dic-2016</text>
<text x="374.5" y="619.6" fill="#D9A521" font-size="9.3" text-anchor="start" font-family="Liberation Sans" textLength="60" lengthAdjust="spacingAndGlyphs">01-Feb-2017</text>
<text x="476.0" y="619.6" fill="#D9A521" font-size="9.3" text-anchor="start" font-family="Liberation Sans" textLength="58.5" lengthAdjust="spacingAndGlyphs">03-Apr-2017</text>
<text x="570.5" y="619.6" fill="#D9A521" font-size="9.3" text-anchor="start" font-family="Liberation Sans" textLength="58" lengthAdjust="spacingAndGlyphs">01-Giu-2017</text>
<text x="670.0" y="619.6" fill="#D9A521" font-size="9.3" text-anchor="start" font-family="Liberation Sans" textLength="61.5" lengthAdjust="spacingAndGlyphs">01-Ago-2017</text>
<text x="770.5" y="619.6" fill="#D9A521" font-size="9.3" text-anchor="start" font-family="Liberation Sans" textLength="56" lengthAdjust="spacingAndGlyphs">02-Ott-2017</text>
<text x="874.0" y="619.6" fill="#D9A521" font-size="9.3" text-anchor="start" font-family="Liberation Sans" textLength="57.5" lengthAdjust="spacingAndGlyphs">01-Dic-2017</text>
<text x="968.0" y="619.6" fill="#D9A521" font-size="9.3" text-anchor="start" font-family="Liberation Sans" textLength="61.0" lengthAdjust="spacingAndGlyphs">01-Feb-2018</text>
<text x="1065.5" y="619.6" fill="#D9A521" font-size="9.3" text-anchor="start" font-family="Liberation Sans" textLength="58.5" lengthAdjust="spacingAndGlyphs">03-Apr-2018</text>
<text x="1164.0" y="619.6" fill="#D9A521" font-size="9.3" text-anchor="start" font-family="Liberation Sans" textLength="60.0" lengthAdjust="spacingAndGlyphs">01-Giu-2018</text>
<text x="68.2" y="784.7" fill="#D9A521" font-size="9.3" text-anchor="start" font-family="Liberation Sans" textLength="61.5" lengthAdjust="spacingAndGlyphs">01-Ago-2016</text>
<text x="174.0" y="784.7" fill="#D9A521" font-size="9.3" text-anchor="start" font-family="Liberation Sans" textLength="56.5" lengthAdjust="spacingAndGlyphs">03-Ott-2016</text>
<text x="274.0" y="784.7" fill="#D9A521" font-size="9.3" text-anchor="start" font-family="Liberation Sans" textLength="58.5" lengthAdjust="spacingAndGlyphs">01-Dic-2016</text>
<text x="374.5" y="784.7" fill="#D9A521" font-size="9.3" text-anchor="start" font-family="Liberation Sans" textLength="60" lengthAdjust="spacingAndGlyphs">01-Feb-2017</text>
<text x="476.0" y="784.7" fill="#D9A521" font-size="9.3" text-anchor="start" font-family="Liberation Sans" textLength="58.5" lengthAdjust="spacingAndGlyphs">03-Apr-2017</text>
<text x="570.5" y="784.7" fill="#D9A521" font-size="9.3" text-anchor="start" font-family="Liberation Sans" textLength="58" lengthAdjust="spacingAndGlyphs">01-Giu-2017</text>
<text x="670.0" y="784.7" fill="#D9A521" font-size="9.3" text-anchor="start" font-family="Liberation Sans" textLength="61.5" lengthAdjust="spacingAndGlyphs">01-Ago-2017</text>
<text x="770.5" y="784.7" fill="#D9A521" font-size="9.3" text-anchor="start" font-family="Liberation Sans" textLength="56" lengthAdjust="spacingAndGlyphs">02-Ott-2017</text>
<text x="874.0" y="784.7" fill="#D9A521" font-size="9.3" text-anchor="start" font-family="Liberation Sans" textLength="57.5" lengthAdjust="spacingAndGlyphs">01-Dic-2017</text>
<text x="968.0" y="784.7" fill="#D9A521" font-size="9.3" text-anchor="start" font-family="Liberation Sans" textLength="61.0" lengthAdjust="spacingAndGlyphs">01-Feb-2018</text>
<text x="1065.5" y="784.7" fill="#D9A521" font-size="9.3" text-anchor="start" font-family="Liberation Sans" textLength="58.5" lengthAdjust="spacingAndGlyphs">03-Apr-2018</text>
<text x="1164.0" y="784.7" fill="#D9A521" font-size="9.3" text-anchor="start" font-family="Liberation Sans" textLength="60.0" lengthAdjust="spacingAndGlyphs">01-Giu-2018</text>
<text x="3.8" y="12.8" fill="#D9A521" font-size="11.5" text-anchor="start" font-family="Liberation Sans" textLength="66.7" lengthAdjust="spacingAndGlyphs">LEONARDO</text>
<text x="4.0" y="26.7" fill="#D9A521" font-size="11" text-anchor="start" font-family="Liberation Sans" textLength="7.5" lengthAdjust="spacingAndGlyphs">D</text>
<text x="13.4" y="26.7" fill="#000" font-size="11" text-anchor="start" font-family="Liberation Sans" textLength="53.9" lengthAdjust="spacingAndGlyphs">10/07/2018</text>
<text x="73.5" y="26.7" fill="#D9A521" font-size="11" text-anchor="start" font-family="Liberation Sans" textLength="7" lengthAdjust="spacingAndGlyphs">T</text>
<text x="81.0" y="26.7" fill="#000" font-size="11" text-anchor="start" font-family="Liberation Sans" textLength="42.5" lengthAdjust="spacingAndGlyphs">09:57:19</text>
<text x="131.5" y="26.7" fill="#D9A521" font-size="11" text-anchor="start" font-family="Liberation Sans" textLength="9" lengthAdjust="spacingAndGlyphs">O</text>
<text x="141.0" y="26.7" fill="#000" font-size="11" text-anchor="start" font-family="Liberation Sans" textLength="27.5" lengthAdjust="spacingAndGlyphs">8,566</text>
<text x="174.0" y="26.7" fill="#D9A521" font-size="11" text-anchor="start" font-family="Liberation Sans" textLength="8.5" lengthAdjust="spacingAndGlyphs">H</text>
<text x="183.0" y="26.7" fill="#000" font-size="11" text-anchor="start" font-family="Liberation Sans" textLength="27.5" lengthAdjust="spacingAndGlyphs">8,598</text>
<text x="216.0" y="26.7" fill="#D9A521" font-size="11" text-anchor="start" font-family="Liberation Sans" textLength="6.5" lengthAdjust="spacingAndGlyphs">L</text>
<text x="224.0" y="26.7" fill="#000" font-size="11" text-anchor="start" font-family="Liberation Sans" textLength="27.5" lengthAdjust="spacingAndGlyphs">8,480</text>
<text x="256.5" y="26.7" fill="#D9A521" font-size="11" text-anchor="start" font-family="Liberation Sans" textLength="9" lengthAdjust="spacingAndGlyphs">C</text>
<text x="266.0" y="26.7" fill="#000" font-size="11" text-anchor="start" font-family="Liberation Sans" textLength="27.5" lengthAdjust="spacingAndGlyphs">8,510</text>
<text x="301.5" y="26.7" fill="#D9A521" font-size="11" text-anchor="start" font-family="Liberation Sans" textLength="8" lengthAdjust="spacingAndGlyphs">V</text>
<text x="310.5" y="26.7" fill="#000" font-size="11" text-anchor="start" font-family="Liberation Sans" textLength="37" lengthAdjust="spacingAndGlyphs">384454</text>
<text x="355.5" y="26.7" fill="#D9A521" font-size="11" text-anchor="start" font-family="Liberation Sans" textLength="27.5" lengthAdjust="spacingAndGlyphs">Var%</text>
<text x="384.5" y="26.7" fill="#000" font-size="11" text-anchor="start" font-family="Liberation Sans" textLength="38" lengthAdjust="spacingAndGlyphs">-1,1155</text>
<text x="17.3" y="453.2" fill="#D9A521" font-size="11" text-anchor="start" font-family="Liberation Sans" textLength="29.7" lengthAdjust="spacingAndGlyphs">MACD</text>
<text x="67.5" y="453.2" fill="#D9A521" font-size="11" text-anchor="start" font-family="Liberation Sans" textLength="46" lengthAdjust="spacingAndGlyphs">(32 , 200)</text>
<text x="117.1" y="453.2" fill="#E8CF8E" font-size="11" text-anchor="start" font-family="Liberation Sans" textLength="2.4" lengthAdjust="spacingAndGlyphs">:</text>
<text x="128.5" y="453.2" fill="#B00010" font-size="11" text-anchor="start" font-family="Liberation Sans" textLength="35.6" lengthAdjust="spacingAndGlyphs">-1,5121</text>
<text x="180.5" y="453.2" fill="#D9A521" font-size="11" text-anchor="start" font-family="Liberation Sans" textLength="6.5" lengthAdjust="spacingAndGlyphs">9</text>
<text x="190.3" y="453.2" fill="#E8CF8E" font-size="11" text-anchor="start" font-family="Liberation Sans" textLength="2.4" lengthAdjust="spacingAndGlyphs">:</text>
<text x="200.5" y="453.2" fill="#000" font-size="11" text-anchor="start" font-family="Liberation Sans" textLength="37.5" lengthAdjust="spacingAndGlyphs">-1,5233</text>
<text x="252.5" y="453.2" fill="#D9A521" font-size="11" text-anchor="start" font-family="Liberation Sans" textLength="17.5" lengthAdjust="spacingAndGlyphs">hist</text>
<text x="272.8" y="453.2" fill="#E8CF8E" font-size="11" text-anchor="start" font-family="Liberation Sans" textLength="2.4" lengthAdjust="spacingAndGlyphs">:</text>
<text x="283.0" y="453.2" fill="#00008B" font-size="11" text-anchor="start" font-family="Liberation Sans" textLength="40.0" lengthAdjust="spacingAndGlyphs">0,01119</text>
<text x="17.3" y="631.6" fill="#D9A521" font-size="11" text-anchor="start" font-family="Liberation Sans" textLength="78.2" lengthAdjust="spacingAndGlyphs">Momento (MOM)</text>
<text x="118.3" y="631.6" fill="#E8CF8E" font-size="11" text-anchor="start" font-family="Liberation Sans" textLength="2.4" lengthAdjust="spacingAndGlyphs">:</text>
<text x="128.5" y="631.6" fill="#000" font-size="11" text-anchor="start" font-family="Liberation Sans" textLength="44.5" lengthAdjust="spacingAndGlyphs">-0,31400</text>
<text x="38" y="83" fill="#D41414" font-size="27" text-anchor="start" font-family="Liberation Serif" textLength="238" lengthAdjust="spacingAndGlyphs">scattacolpending.com</text>
<text x="141" y="352" fill="#000" font-size="24" text-anchor="start" font-family="Liberation Serif" textLength="823" lengthAdjust="spacingAndGlyphs">le divergenze rialziste di macd e momentum indicano probabile fase di accumulazione</text>
<text x="165" y="392.5" fill="#D41414" font-size="24" text-anchor="start" font-family="Liberation Serif" textLength="268" lengthAdjust="spacingAndGlyphs">ottica long di medio periodo</text>
</svg>
</body></html>
